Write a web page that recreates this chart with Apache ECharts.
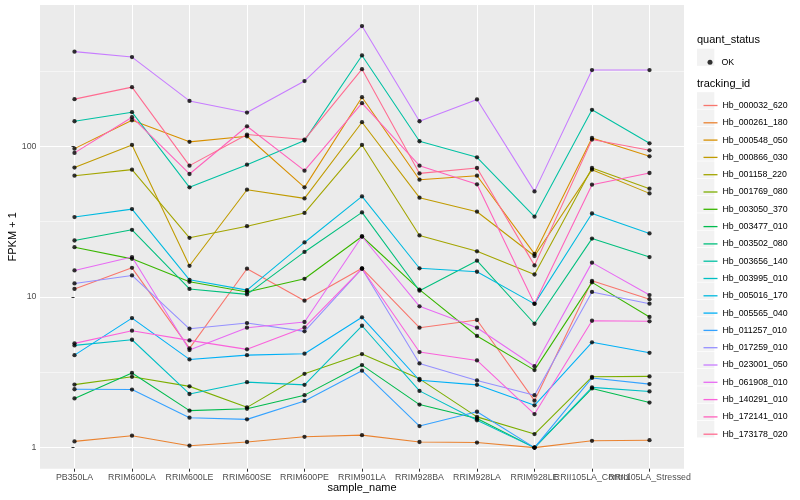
<!DOCTYPE html>
<html>
<head>
<meta charset="utf-8">
<script src="https://cdn.jsdelivr.net/npm/echarts@6/dist/echarts.min.js"></script>
<style>
html,body{margin:0;padding:0;background:#fff;}
#c{width:800px;height:500px;}
</style>
</head>
<body>
<div id="c"></div>
<script>
// ---------- DATA ----------
const categories = ["PB350LA","RRIM600LA","RRIM600LE","RRIM600SE","RRIM600PE","RRIM901LA","RRIM928BA","RRIM928LA","RRIM928LE","RRII105LA_Control","RRII105LA_Stressed"];

const trackingIds = ["Hb_000032_620","Hb_000261_180","Hb_000548_050","Hb_000866_030","Hb_001158_220","Hb_001769_080","Hb_003050_370","Hb_003477_010","Hb_003502_080","Hb_003656_140","Hb_003995_010","Hb_005016_170","Hb_005565_040","Hb_011257_010","Hb_017259_010","Hb_023001_050","Hb_061908_010","Hb_140291_010","Hb_172141_010","Hb_173178_020"];

const colors = ["#F8766D","#EA8331","#D89000","#C09B00","#A3A500","#7CAE00","#39B600","#00BB4E","#00BF7D","#00C1A3","#00BFC4","#00BAE0","#00B0F6","#35A2FF","#9590FF","#C77CFF","#E76BF3","#FA62DB","#FF62BC","#FF6C91"];

// FPKM + 1 values, one per sample (order of categories)
const Hb_000032_620 = [11.3, 15.6, 4.56, 15.4, 9.45, 15.5, 6.25, 7.03, 2.05, 12.8, 9.66];
const Hb_000261_180 = [1.10, 1.20, 1.03, 1.09, 1.18, 1.21, 1.09, 1.08, 1.00, 1.11, 1.12];
const Hb_000548_050 = [96.5, 148.9, 107, 116.6, 53.4, 211.8, 60.0, 63.8, 19.3, 113.7, 85.8];
const Hb_000866_030 = [72.2, 102.1, 16.1, 51.5, 45.1, 144.5, 45.6, 36.8, 18.7, 70.0, 48.7];
const Hb_001158_220 = [63.8, 70.0, 24.7, 29.5, 36.1, 102.1, 25.6, 20.1, 14.1, 71.8, 52.3];
const Hb_001769_080 = [2.62, 2.95, 2.55, 1.85, 3.09, 4.18, 2.86, 1.60, 1.23, 2.95, 2.97];
const Hb_003050_370 = [21.4, 17.9, 12.6, 10.8, 13.2, 25.2, 11.2, 5.51, 3.27, 12.5, 7.36];
const Hb_003477_010 = [2.12, 3.13, 1.76, 1.81, 2.23, 3.53, 1.93, 1.56, 1.00, 2.47, 1.99];
const Hb_003502_080 = [23.7, 27.9, 11.3, 10.4, 19.9, 36.4, 11.0, 17.4, 6.64, 24.4, 18.4];
const Hb_003656_140 = [146.6, 168.4, 53.4, 75.5, 109.1, 401, 108, 84.5, 34.1, 174.6, 104.7];
const Hb_003995_010 = [4.77, 5.20, 2.27, 2.72, 2.61, 6.44, 2.38, 1.52, 1.00, 2.51, 2.36];
const Hb_005016_170 = [33.9, 38.3, 13.0, 11.1, 23.0, 46.5, 15.5, 14.7, 9.0, 35.8, 26.4];
const Hb_005565_040 = [4.11, 7.24, 3.85, 4.11, 4.20, 7.33, 2.80, 2.61, 1.91, 5.00, 4.26];
const Hb_011257_010 = [2.44, 2.43, 1.58, 1.54, 2.04, 3.24, 1.39, 1.73, 1.00, 2.90, 2.64];
const Hb_017259_010 = [12.3, 13.9, 6.15, 6.71, 5.91, 15.4, 3.62, 2.79, 2.23, 10.8, 9.02];
const Hb_023001_050 = [425, 391, 200, 167.5, 271, 628, 146.6, 204.6, 50.2, 320.6, 320.6];
const Hb_061908_010 = [15.0, 18.4, 4.44, 6.25, 6.82, 25.2, 8.67, 6.25, 3.47, 16.9, 10.3];
const Hb_140291_010 = [4.92, 5.97, 5.15, 4.49, 6.28, 15.4, 4.31, 3.79, 1.67, 6.95, 6.89];
const Hb_172141_010 = [90.4, 156, 65.5, 135.8, 68.9, 193.2, 74.4, 55.9, 9.02, 55.6, 66.5];
const Hb_173178_020 = [205.6, 247, 74.4, 119.6, 110.8, 325, 66.1, 71.8, 16.2, 110.8, 94.0];

const yMajorTicks = [1, 10, 100];
const yMinorTicks = [Math.sqrt(10), 10 * Math.sqrt(10), 100 * Math.sqrt(10)];

const seriesValues = [Hb_000032_620, Hb_000261_180, Hb_000548_050, Hb_000866_030, Hb_001158_220, Hb_001769_080, Hb_003050_370, Hb_003477_010, Hb_003502_080, Hb_003656_140, Hb_003995_010, Hb_005016_170, Hb_005565_040, Hb_011257_010, Hb_017259_010, Hb_023001_050, Hb_061908_010, Hb_140291_010, Hb_172141_010, Hb_173178_020];

// ---------- CHART ----------
const font = '"Liberation Sans", Arial, Helvetica, sans-serif';
const chart = echarts.init(document.getElementById('c'), null, {renderer: 'canvas'});

const allVals = seriesValues.flat();
const lo = Math.log10(Math.min(...allVals));
const hi = Math.log10(Math.max(...allVals));
const pad = (hi - lo) * 0.05;
const yMin = Math.pow(10, lo - pad);
const yMax = Math.pow(10, hi + pad);
const xIdx = categories.map((c, i) => i);
const xEven = xIdx.filter(i => i % 2 === 0);
const xOdd = xIdx.filter(i => i % 2 === 1);

const lineSeries = trackingIds.map((id, k) => ({
  name: id,
  type: 'line',
  xAxisIndex: 0,
  yAxisIndex: 0,
  data: seriesValues[k].map((v, i) => [i, v]),
  symbol: 'none',
  showSymbol: false,
  lineStyle: {color: colors[k], width: 1.07},
  itemStyle: {color: colors[k]},
  emphasis: {disabled: true},
  silent: true,
  animation: false,
  z: 2
}));

const pointSeries = {
  name: 'OK',
  type: 'scatter',
  xAxisIndex: 0,
  yAxisIndex: 0,
  data: seriesValues.flatMap(vals => vals.map((v, i) => [i, v])),
  symbol: 'circle',
  symbolSize: 4.3,
  itemStyle: {color: '#000'},
  silent: true,
  animation: false,
  z: 3
};

// legend key backgrounds & titles
const keyX = 697, keyW = 17.3;
const graphics = [
  {type: 'text', left: keyX, top: 34, style: {text: 'quant_status', font: '11px ' + font, fill: '#000'}},
  {type: 'text', left: keyX, top: 78, style: {text: 'tracking_id', font: '11px ' + font, fill: '#000'}},
  {type: 'rect', shape: {x: keyX, y: 48.7, width: keyW, height: 17.1}, style: {fill: '#F2F2F2'}, z: -1}
];
trackingIds.forEach((id, k) => {
  graphics.push({type: 'rect', shape: {x: keyX, y: 92.2 + 17.3 * k, width: keyW, height: 16.6}, style: {fill: '#F2F2F2'}, z: -1});
});

function makeXAxis(vals, withName) {
  const ax = {
    type: 'value',
    position: 'bottom',
    min: -0.6,
    max: categories.length - 1 + 0.6,
    axisLine: {show: false},
    axisTick: {show: true, customValues: vals, length: 3, lineStyle: {color: '#333333', width: 1}},
    axisLabel: {customValues: vals, formatter: v => categories[Math.round(v)], fontSize: 8.8, color: '#4D4D4D', margin: 4.5, fontFamily: font, hideOverlap: false, showMaxLabel: true, showMinLabel: true},
    splitLine: {show: true, lineStyle: {color: '#FFFFFF', width: 1.07}},
    minorTick: {show: false}
  };
  if (withName) {
    ax.name = 'sample_name';
    ax.nameLocation = 'middle';
    ax.nameGap = 13.5;
    ax.nameMoveOverlap = false;
    ax.nameTextStyle = {fontSize: 11, color: '#000', fontFamily: font};
  }
  return ax;
}

const option = {
  backgroundColor: '#ffffff',
  animation: false,
  textStyle: {fontFamily: font},
  grid: {left: 40, right: 116, top: 5, bottom: 31.3, show: true, backgroundColor: '#EBEBEB', borderWidth: 0, containLabel: false, outerBoundsMode: 'none'},
  graphic: graphics,
  legend: [
    {
      data: ['OK'], orient: 'vertical', left: 702.5, top: 48.8,
      icon: 'circle', itemWidth: 5, itemHeight: 5, itemGap: 0,
      selectedMode: false,
      textStyle: {fontSize: 8.8, color: '#000', lineHeight: 17, fontFamily: font, padding: [0, 0, 0, 4]}
    },
    {
      data: trackingIds, orient: 'vertical', left: 698.5, top: 92,
      icon: 'rect', itemWidth: 14, itemHeight: 1.3, itemGap: 0.3,
      selectedMode: false,
      textStyle: {fontSize: 8.8, color: '#000', lineHeight: 17, fontFamily: font, padding: [0, 0, 0, 0]}
    }
  ],
  xAxis: [makeXAxis(xEven, true), makeXAxis(xOdd, false)],
  yAxis: [
    {
      type: 'log',
      logBase: 10,
      min: yMin,
      max: yMax,
      axisLine: {show: false},
      axisTick: {show: true, customValues: yMajorTicks, length: 3, lineStyle: {color: '#333333', width: 1}},
      axisLabel: {customValues: yMajorTicks, formatter: v => String(Math.round(v)), fontSize: 8.8, color: '#4D4D4D', margin: 3.5, fontFamily: font},
      splitLine: {show: true, lineStyle: {color: '#FFFFFF', width: 1.07}},
      name: 'FPKM + 1',
      nameLocation: 'middle',
      nameGap: 22,
      nameMoveOverlap: false,
      nameTextStyle: {fontSize: 11, color: '#000', fontFamily: font}
    },
    {
      type: 'log',
      logBase: 10,
      min: yMin,
      max: yMax,
      position: 'left',
      axisLine: {show: false},
      axisTick: {show: false, customValues: yMinorTicks},
      axisLabel: {show: false, customValues: yMinorTicks},
      splitLine: {show: true, lineStyle: {color: '#FFFFFF', width: 0.53}}
    }
  ],
  series: [...lineSeries, pointSeries]
};

chart.setOption(option);
</script>
</body>
</html>
